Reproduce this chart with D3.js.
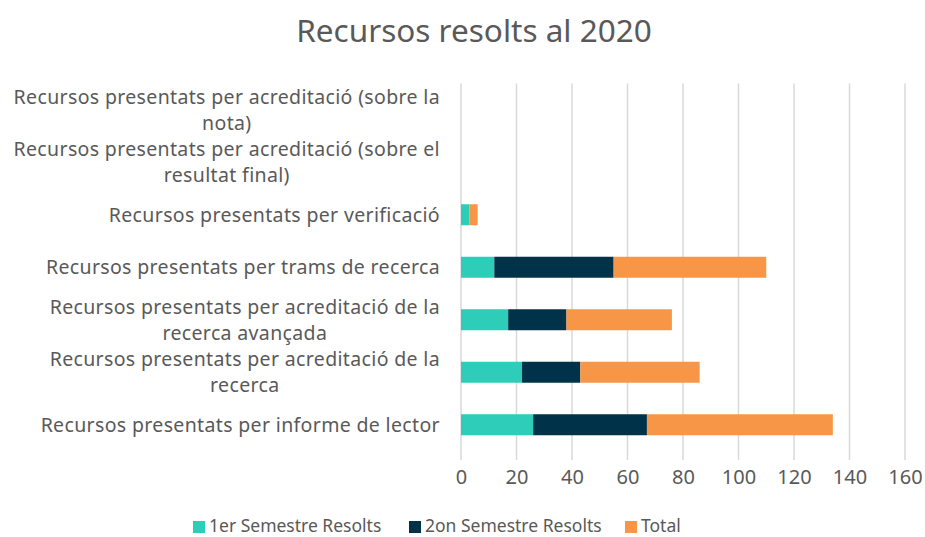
<!DOCTYPE html>
<html><head><meta charset="utf-8">
<script src="https://cdn.jsdelivr.net/npm/d3@7"></script>
<style>body{margin:0;background:#fff}svg{display:block}text{font-family:"Noto Sans",sans-serif;fill:#595959}</style>
</head><body><svg id="c" width="925" height="537"></svg>
<script>
const title = "Recursos resolts al 2020";
const categories = [
  "Recursos presentats per informe de lector",
  "Recursos presentats per acreditació de la recerca",
  "Recursos presentats per acreditació de la recerca avançada",
  "Recursos presentats per trams de recerca",
  "Recursos presentats per verificació",
  "Recursos presentats per acreditació (sobre el resultat final)",
  "Recursos presentats per acreditació (sobre la nota)"
];
const seriesNames = ["1er Semestre Resolts", "2on Semestre Resolts", "Total"];
const sem1 = [26, 22, 17, 12, 3, 0, 0];
const sem2 = [41, 21, 21, 43, 0, 0, 0];
const total = [67, 43, 38, 55, 3, 0, 0];
const xTicks = [0, 20, 40, 60, 80, 100, 120, 140, 160];
const colors = ["#2ECDBA", "#003349", "#F79646"];

const svg = d3.select("#c");
const plot = {left: 461, right: 905, top: 83.5, bottom: 451};
const x = d3.scaleLinear().domain([0, 160]).range([plot.left, plot.right]);
const y = d3.scaleBand().domain(categories.slice().reverse()).range([plot.top, plot.bottom]).paddingInner(0.6).paddingOuter(0.3);

// title
svg.append("text").attr("x", 474).attr("y", 42).attr("text-anchor", "middle")
  .style("font-size", "31.5px").text(title);

// gridlines
svg.append("g").selectAll("line").data(xTicks).join("line")
  .attr("x1", d => x(d)).attr("x2", d => x(d))
  .attr("y1", plot.top).attr("y2", plot.bottom + 9)
  .attr("stroke", "#D9D9D9").attr("stroke-width", 1.5);

// x axis labels
const xAxis = d3.axisBottom(x).tickValues(xTicks).tickSize(0).tickPadding(0);
const gx = svg.append("g").attr("transform", `translate(0,${plot.bottom})`).call(xAxis);
gx.select(".domain").remove();
gx.selectAll("text").attr("dy", 0).attr("y", 33).style("font-size", "20px").style("fill", "#595959").style("font-family", '"Noto Sans",sans-serif');

// stacked bars
const rows = categories.map((c, i) => ({cat: c, s1: sem1[i], s2: sem2[i], t: total[i]}));
const stack = d3.stack().keys(["s1", "s2", "t"])(rows);
svg.append("g").selectAll("g").data(stack).join("g").attr("fill", (d, i) => colors[i])
  .selectAll("rect").data(d => d).join("rect")
  .attr("x", d => x(d[0])).attr("width", d => x(d[1]) - x(d[0]))
  .attr("y", d => y(d.data.cat)).attr("height", y.bandwidth());

// category labels with wrapping
const fs = 19.5;
const ls = "0.35px";
const labelG = svg.append("g");
const measure = svg.append("text").style("font-size", fs + "px").style("letter-spacing", ls);
function w(s) { measure.text(s); return measure.node().getComputedTextLength(); }
const maxW = Math.max(w("Recursos presentats per acreditació (sobre la"), w("Recursos presentats per acreditació (sobre el")) + 1;
categories.forEach(c => {
  const words = c.split(" ");
  const lines = [];
  let cur = "";
  words.forEach(wd => {
    const t = cur ? cur + " " + wd : wd;
    if (w(t) > maxW && cur) { lines.push(cur); cur = wd; } else cur = t;
  });
  lines.push(cur);
  const blockW = Math.max(...lines.map(w));
  const cx = 440 - blockW / 2;
  const cy = y(c) + y.bandwidth() / 2;
  const lh = 26;
  const t = labelG.append("text").attr("text-anchor", "middle").style("font-size", fs + "px").style("letter-spacing", ls);
  lines.forEach((ln, i) => {
    t.append("tspan").attr("x", cx).attr("y", cy + (i - (lines.length - 1) / 2) * lh + 7).text(ln);
  });
});
measure.remove();

// legend
const legendX = [193, 409, 625];
const lg = svg.append("g");
seriesNames.forEach((n, i) => {
  lg.append("rect").attr("x", legendX[i]).attr("y", 521).attr("width", 12).attr("height", 12).attr("fill", colors[i]);
  lg.append("text").attr("x", legendX[i] + 16).attr("y", 532).style("font-size", "17.5px").text(n);
});
</script></body></html>
